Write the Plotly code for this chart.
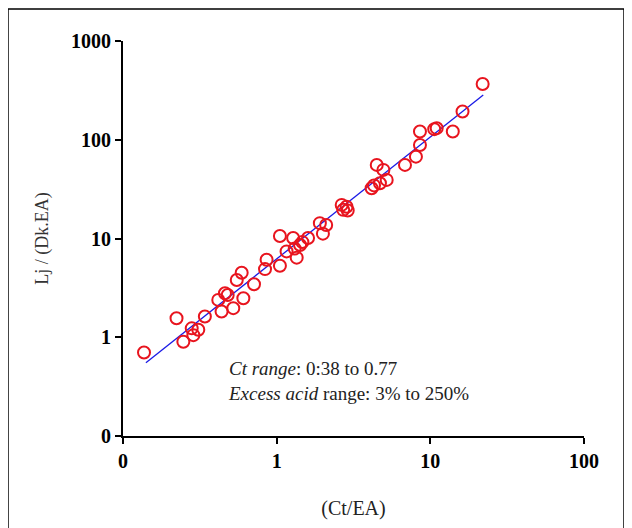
import plotly.graph_objects as go

# Data
ct_ea = [0.137, 0.223, 0.247, 0.280, 0.287, 0.309, 0.341, 0.417, 0.438, 0.461,
         0.48, 0.522, 0.55, 0.592, 0.607, 0.712, 0.84, 0.86, 1.05, 1.05,
         1.16, 1.28, 1.31, 1.35, 1.42, 1.47, 1.6, 1.91, 2.0, 2.1,
         2.65, 2.71, 2.85, 2.9, 4.15, 4.3, 4.48, 4.7, 4.95, 5.2,
         6.84, 8.06, 8.56, 8.56, 10.6, 11.0, 14.0, 16.2, 21.9]
lj_dkea = [0.70, 1.56, 0.90, 1.23, 1.05, 1.19, 1.62, 2.39, 1.82, 2.79,
           2.68, 1.97, 3.8, 4.5, 2.48, 3.44, 4.9, 6.1, 5.3, 10.6,
           7.4, 10.1, 7.9, 6.4, 8.6, 9.2, 10.1, 14.3, 11.2, 13.7,
           21.9, 19.5, 21.0, 19.2, 32.3, 34.5, 55.6, 36.3, 49.5, 39.2,
           55.6, 67.4, 88.5, 121, 128, 131, 121, 193, 367]

fit_x = [0.141, 22.1]
fit_y = [0.553, 284]

x_tickvals = [0.1, 1, 10, 100]
x_ticktext = ["0", "1", "10", "100"]
y_tickvals = [0.1, 1, 10, 100, 1000]
y_ticktext = ["0", "1", "10", "100", "1000"]

SERIF = "Liberation Serif, Times New Roman, serif"

fig = go.Figure()
fig.add_trace(go.Scatter(
    x=fit_x, y=fit_y, mode="lines",
    line=dict(color="#1a1ae6", width=1.3),
    showlegend=False, hoverinfo="skip"))
fig.add_trace(go.Scatter(
    x=ct_ea, y=lj_dkea, mode="markers",
    marker=dict(symbol="circle-open", size=12, color="#e8141e",
                line=dict(width=2, color="#e8141e")),
    showlegend=False))

fig.update_xaxes(
    type="log", range=[-1, 2],
    tickvals=x_tickvals, ticktext=x_ticktext,
    showgrid=False, zeroline=False,
    showline=True, linecolor="black", linewidth=2,
    ticks="outside", ticklen=6, tickwidth=2, tickcolor="black",
    tickfont=dict(family=SERIF, size=20, color="black", weight="bold"),
    title=dict(text="(Ct/EA)", font=dict(family=SERIF, size=20, color="#222"),
               standoff=30),
)
fig.update_yaxes(
    type="log", range=[-1, 3],
    tickvals=y_tickvals, ticktext=y_ticktext,
    showgrid=False, zeroline=False,
    showline=True, linecolor="black", linewidth=2,
    ticks="outside", ticklen=6, tickwidth=2, tickcolor="black",
    tickfont=dict(family=SERIF, size=20, color="black", weight="bold"),
    title=dict(text="Lj / (Dk.EA)", font=dict(family=SERIF, size=18, color="#333"),
               standoff=18),
)

fig.add_annotation(
    xref="paper", yref="paper", x=0.224, y=0.139, xanchor="left", yanchor="middle",
    text="<i>Ct range</i>: 0:38 to 0.77<br><i>Excess acid</i> range: 3% to 250%",
    showarrow=False,
    font=dict(family=SERIF, size=19, color="#222"), align="left")

# outer frame
fig.add_shape(type="rect", xref="paper", yref="paper",
              x0=-0.2495, x1=1.0868, y0=-0.32, y1=1.081,
              line=dict(color="black", width=1.5), fillcolor="rgba(0,0,0,0)",
              layer="below")

fig.update_layout(
    width=624, height=520,
    margin=dict(l=115, r=48, t=33, b=92),
    paper_bgcolor="white", plot_bgcolor="white",
    showlegend=False,
)

fig.write_html("out.html")
